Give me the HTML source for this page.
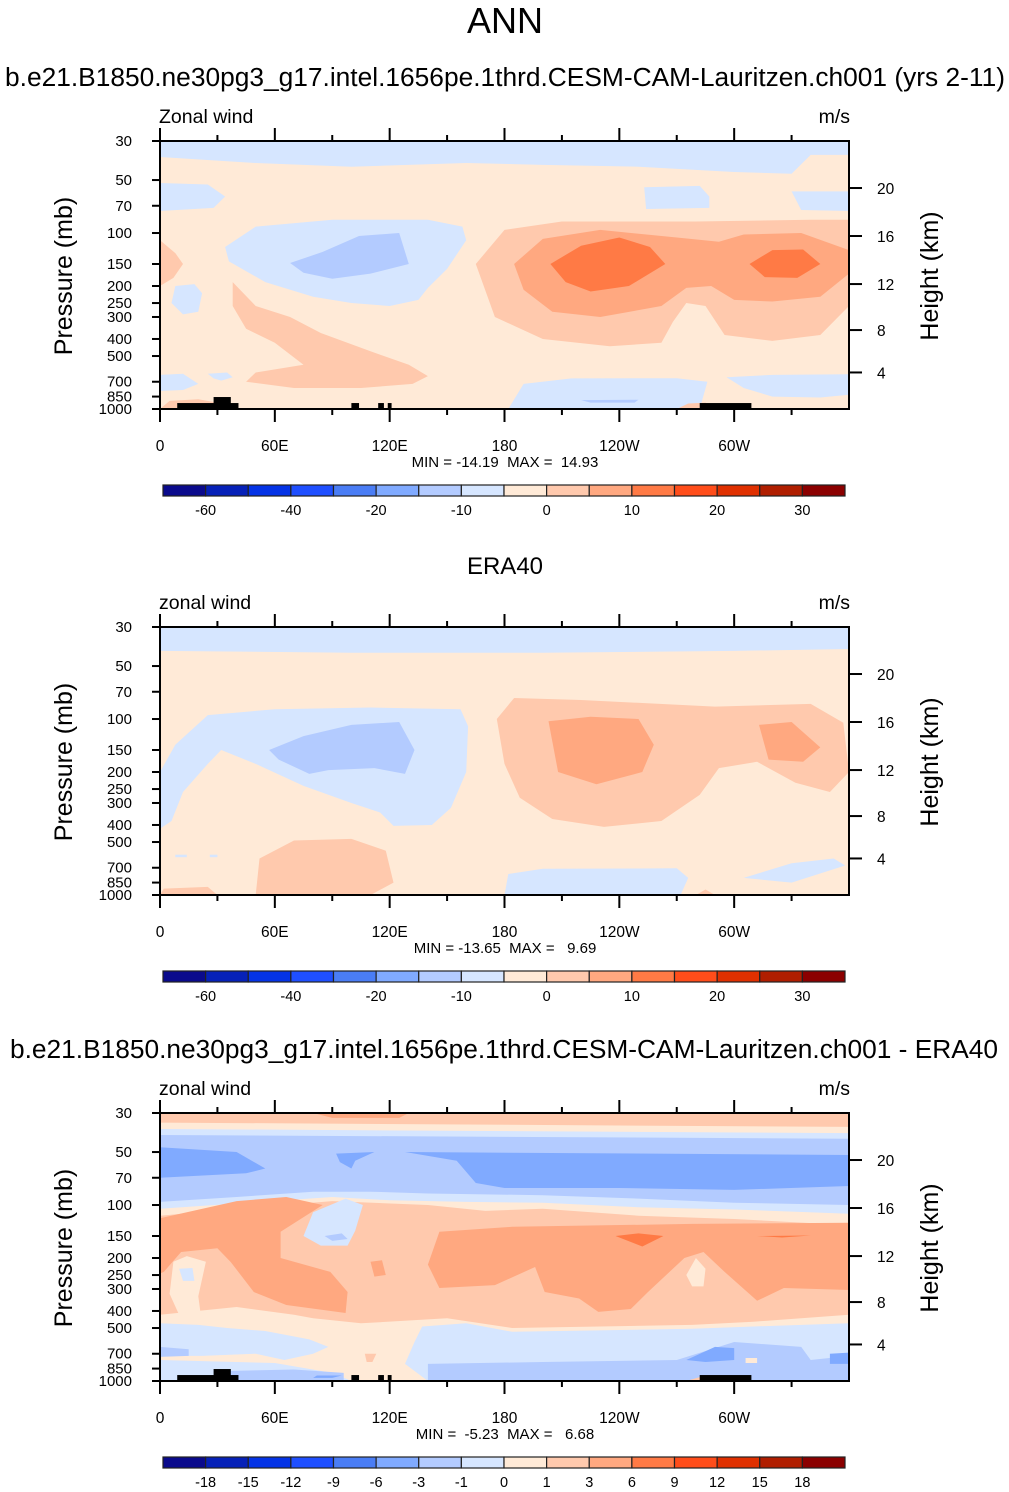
<!DOCTYPE html>
<html><head><meta charset="utf-8">
<style>
body{margin:0;background:#fff;}
svg{display:block;font-family:"Liberation Sans",Arial,sans-serif;}
text{white-space:pre;}
</style></head>
<body>
<svg id="fig" width="1009" height="1492" viewBox="0 0 1009 1492" xmlns="http://www.w3.org/2000/svg">
<text x="505" y="33" font-size="36" text-anchor="middle">ANN</text>
<text x="505" y="86" font-size="26.2" text-anchor="middle" textLength="1000" lengthAdjust="spacingAndGlyphs">b.e21.B1850.ne30pg3_g17.intel.1656pe.1thrd.CESM-CAM-Lauritzen.ch001 (yrs 2-11)</text>
<text x="505" y="574" font-size="24" text-anchor="middle">ERA40</text>
<text x="504" y="1058" font-size="26.2" text-anchor="middle" textLength="988" lengthAdjust="spacingAndGlyphs">b.e21.B1850.ne30pg3_g17.intel.1656pe.1thrd.CESM-CAM-Lauritzen.ch001 - ERA40</text>
</svg>
<script>
// ---- data ----
const colors = ["#0a0a8c","#0621b8","#0433e6","#1f4fff","#4a7df5","#80aaff","#b3cbff","#d6e6ff","#ffead7","#ffc9ad","#ffa880","#ff7a45","#ff4d1a","#e03000","#b01e00","#8b0000"];
const pressureTicks = [30,50,70,100,150,200,250,300,400,500,700,850,1000];
const heightTicks = [4,8,12,16,20];
const heightTickP = [620,356,195,104,55.5];
const lonTicks = [0,30,60,90,120,150,180,210,240,270,300,330];
const lonLabels = {0:"0",60:"60E",120:"120E",180:"180",240:"120W",300:"60W"};
const cbLabelsFull = ["-60","","-40","","-20","","-10","","0","","10","","20","","30"];
const cbLabelsDiff = ["-18","-15","-12","-9","-6","-3","-1","0","1","3","6","9","12","15","18"];
const panelTops = [141,627,1113];
const panelLeft = ["Zonal wind","zonal wind","zonal wind"];
const panelMinMax = ["MIN = -14.19  MAX =  14.93","MIN = -13.65  MAX =   9.69","MIN =  -5.23  MAX =   6.68"];
const panelBg = [8,8,9];
// regions: [level, [[lon,p],...]]
const regions1 = [
 [7,[[0,30],[360,30],[360,36],[340,36],[330,46],[300,45],[250,42],[200,41],[160,40],[100,42],[50,40],[0,37]]],
 [7,[[0,52],[25,53],[34,62],[28,72],[0,75]]],
 [7,[[253,55],[282,54],[287,62],[287,72],[254,73]]],
 [7,[[330,58],[360,58],[360,75],[335,74]]],
 [7,[[34,120],[50,92],[90,84],[140,84],[158,92],[160,110],[150,160],[140,205],[135,240],[120,260],[100,250],[80,230],[55,190],[36,145]]],
 [6,[[68,148],[85,128],[104,104],[125,100],[130,150],[110,170],[90,182],[75,168]]],
 [7,[[8,200],[18,195],[22,220],[20,280],[12,290],[6,250]]],
 [9,[[0,110],[8,130],[12,150],[7,180],[0,200]]],
 [9,[[38,190],[50,260],[68,300],[84,370],[110,470],[130,560],[140,650],[132,720],[105,760],[70,760],[45,700],[50,620],[75,560],[60,420],[45,350],[38,260]]],
 [9,[[165,150],[180,96],[210,86],[280,86],[340,84],[360,84],[360,260],[345,380],[320,410],[295,380],[285,260],[275,250],[268,320],[262,420],[235,440],[200,400],[175,300]]],
 [10,[[185,150],[200,108],[230,96],[270,106],[292,112],[305,102],[335,100],[360,125],[360,170],[345,230],[320,245],[300,240],[288,200],[275,205],[262,260],[230,300],[205,280],[190,210]]],
 [11,[[204,150],[220,118],[240,106],[256,120],[264,150],[245,200],[225,215],[212,190]]],
 [11,[[308,150],[320,125],[336,124],[345,150],[333,180],[316,178]]],
 [7,[[182,1000],[190,720],[215,670],[270,668],[286,700],[282,1000]]],
 [6,[[220,890],[250,885],[248,920],[225,920]]],
 [7,[[296,660],[320,640],[360,635],[360,830],[345,860],[320,850],[305,760]]],
 [7,[[0,640],[12,630],[20,720],[12,780],[0,790]]],
 [7,[[25,630],[35,620],[38,660],[32,690],[28,670]]],
 [9,[[0,1000],[5,900],[20,880],[30,920],[30,1000]]],
 [9,[[270,1000],[276,930],[285,920],[290,1000]]]
];
const regions2 = [
 [7,[[0,30],[360,30],[360,40],[300,41],[200,42],[100,42],[0,41]]],
 [7,[[0,200],[8,140],[25,95],[60,88],[110,86],[157,88],[161,110],[160,200],[152,320],[142,400],[122,405],[115,340],[100,300],[75,240],[50,180],[32,150],[25,180],[12,260],[6,380],[0,420]]],
 [6,[[57,150],[75,125],[100,108],[125,104],[133,150],[128,205],[112,190],[88,195],[78,205],[62,170]]],
 [9,[[176,100],[185,76],[220,78],[290,85],[340,82],[357,105],[360,200],[350,260],[332,230],[312,175],[292,190],[282,270],[262,380],[232,410],[205,370],[188,280],[180,180]]],
 [10,[[203,103],[225,97],[250,100],[258,140],[252,200],[228,235],[208,200]]],
 [10,[[313,108],[330,104],[345,145],[336,175],[318,170]]],
 [9,[[50,1000],[52,620],[70,490],[100,480],[118,560],[122,850],[110,1000]]],
 [9,[[0,1000],[2,920],[25,900],[30,1000]]],
 [9,[[280,1000],[285,930],[290,1000]]],
 [7,[[180,1000],[182,760],[200,710],[270,705],[276,800],[272,1000]]],
 [7,[[305,800],[330,660],[352,620],[358,680],[330,850]]],
 [7,[[8,590],[14,590],[14,610],[8,610]]],[7,[[26,590],[30,590],[30,610],[26,610]]]
];
const regions3 = [
 [10,[[80,30],[130,30],[125,32],[90,32]]],
 [8,[[0,34],[360,36],[360,130],[300,120],[250,115],[200,105],[170,108],[140,100],[90,95],[40,105],[0,115]]],
 [7,[[0,37],[360,39],[360,112],[300,106],[250,103],[200,97],[160,96],[120,94],[90,90],[40,98],[0,105]]],
 [6,[[0,40],[360,42],[360,100],[300,97],[250,92],[200,88],[140,86],[110,84],[80,84],[40,90],[0,96]]],
 [5,[[0,47],[40,50],[55,62],[45,66],[0,70]]],
 [5,[[92,51],[112,50],[102,56],[100,62],[94,57]]],
 [5,[[128,50],[360,52],[360,78],[300,82],[240,80],[180,80],[165,75],[155,56]]],
 [7,[[80,110],[97,92],[106,100],[102,140],[98,170],[84,170],[75,150]]],
 [6,[[86,150],[95,145],[98,156],[90,160]]],
 [10,[[0,119],[40,95],[66,90],[85,100],[63,142],[63,200],[89,240],[98,312],[97,411],[66,370],[49,312],[37,211],[30,176],[11,185],[2,240],[0,245]]],
 [8,[[7,210],[14,195],[24,210],[20,330],[22,480],[26,600],[16,560],[10,420],[5,320]]],
 [7,[[10,230],[17,228],[18,270],[12,270]]],
 [10,[[140,218],[146,142],[184,133],[278,128],[360,126],[360,304],[326,296],[312,350],[295,240],[284,185],[274,200],[255,312],[246,390],[229,405],[219,340],[201,312],[196,225],[175,285],[146,296]]],
 [10,[[110,210],[116,206],[118,250],[112,255]]],
 [8,[[275,250],[280,200],[285,230],[284,290],[278,290]]],
 [11,[[238,150],[250,145],[263,150],[252,172]]],
 [11,[[312,150],[340,149],[325,153]]],
 [8,[[0,420],[40,380],[70,420],[80,440],[105,470],[150,440],[184,500],[278,480],[310,460],[360,420],[360,1000],[0,1000]]],
 [7,[[0,470],[20,480],[35,500],[55,520],[78,580],[88,640],[80,700],[65,760],[50,700],[22,720],[0,720]]],
 [7,[[137,490],[160,470],[184,525],[278,505],[310,490],[360,470],[360,1000],[140,1000],[128,800],[133,600]]],
 [7,[[0,760],[60,790],[90,900],[100,1000],[0,1000]]],
 [6,[[0,640],[15,660],[15,720],[0,730]]],
 [6,[[140,800],[200,780],[270,760],[300,600],[335,640],[340,760],[360,720],[360,1000],[140,1000]]],
 [6,[[30,880],[70,860],[96,900],[96,1000],[30,1000]]],
 [5,[[290,640],[300,650],[300,760],[285,780],[275,760]]],
 [5,[[350,700],[360,690],[360,800],[350,800]]],
 [5,[[82,930],[95,930],[90,960],[80,960]]],
 [8,[[306,740],[312,740],[312,790],[306,790]]],
 [9,[[107,700],[113,700],[111,780],[108,780]]],
 [9,[[275,1000],[282,950],[288,1000]]]
];
const panelRegions = [regions1, regions2, regions3];
const topo = [[9,41,925],[28,37,855],[100,104,925],[114,117,925],[119,121,925],[282,309,925]];
const panelHasTopo = [true,false,true];

// ---- drawing ----
const NS="http://www.w3.org/2000/svg";
const svg=document.getElementById('fig');
const L=160, W=689, H=268;
function el(tag, attrs, parent){const e=document.createElementNS(NS,tag);for(const k in attrs)e.setAttribute(k,attrs[k]);(parent||svg).appendChild(e);return e;}
function xScale(lon){return L+lon/360*W;}
function yScale(top,p){return top+Math.log(p/30)/Math.log(1000/30)*H;}

panelTops.forEach((top,pi)=>{
  const g=el('g',{});
  
  
  const cp=el('clipPath',{id:'clip'+pi},g);
  el('rect',{x:L,y:top,width:W,height:H},cp);
  const plot=el('g',{'clip-path':'url(#clip'+pi+')'},g);
  
  
  const bg=el('rect',{x:L,y:top,width:W,height:H,fill:colors[panelBg[pi]]},plot);
  
  
  panelRegions[pi].forEach((r,ri)=>{
    const pts=r[1].map(q=>xScale(q[0]).toFixed(1)+','+yScale(top,q[1]).toFixed(1)).join(' ');
    const poly=el('polygon',{points:pts,fill:colors[r[0]]},plot);
    
    
  });
  if(panelHasTopo[pi]){
    topo.forEach(t=>{
      const y=yScale(top,t[2]);
      const rr=el('rect',{x:xScale(t[0]),y:y,width:xScale(t[1])-xScale(t[0]),height:top+H-y,fill:'#000'},plot);
      
      
    });
  }
  const frame=el('rect',{x:L,y:top,width:W,height:H,fill:'none',stroke:'#000','stroke-width':2},g);
  
  
  lonTicks.forEach(lon=>{
    const x=xScale(lon), major=(lon%60===0), len=major?13:6;
    el('line',{x1:x,y1:top,x2:x,y2:top-len,stroke:'#000','stroke-width':2},g);
    el('line',{x1:x,y1:top+H,x2:x,y2:top+H+len,stroke:'#000','stroke-width':2},g);
    if(lonLabels[lon]!==undefined){
      const t=el('text',{x:x,y:top+H+42,'font-size':15.5,'text-anchor':'middle'},g);
      t.textContent=lonLabels[lon];
      
      
    }
  });
  pressureTicks.forEach(p=>{
    const y=yScale(top,p);
    el('line',{x1:L,y1:y,x2:L-8,y2:y,stroke:'#000','stroke-width':2},g);
    const t=el('text',{x:L-28,y:y+5,'font-size':15,'text-anchor':'end'},g);
    t.textContent=p;
    
    
  });
  heightTicks.forEach((h,i)=>{
    const y=yScale(top,heightTickP[i]);
    el('line',{x1:L+W,y1:y,x2:L+W+13,y2:y,stroke:'#000','stroke-width':2},g);
    const t=el('text',{x:L+W+28,y:y+6,'font-size':15.5},g);
    t.textContent=h;
    
    
  });
  const yt=el('text',{x:0,y:0,'font-size':25,'text-anchor':'middle',transform:'translate(72,'+(top+135)+') rotate(-90)'},g);
  yt.textContent='Pressure (mb)';
  
  
  const ht=el('text',{x:0,y:0,'font-size':25,'text-anchor':'middle',transform:'translate(938,'+(top+135)+') rotate(-90)'},g);
  ht.textContent='Height (km)';
  
  
  const lt=el('text',{x:159,y:top-18,'font-size':19.5},g);
  lt.textContent=panelLeft[pi];
  
  
  const ut=el('text',{x:850,y:top-18,'font-size':19.5,'text-anchor':'end'},g);
  ut.textContent='m/s';
  
  
  const mm=el('text',{x:505,y:top+326,'font-size':15,'text-anchor':'middle'},g);
  mm.textContent=panelMinMax[pi];
  
  
  const cb=el('g',{},g);
  
  
  const cy=top+344, cx=163, bw=682/16;
  colors.forEach((c,i)=>{
    const b=el('rect',{x:cx+i*bw,y:cy,width:bw,height:11,fill:c,stroke:'#222','stroke-width':1.2},cb);
    
    
  });
  const labs= pi===2?cbLabelsDiff:cbLabelsFull;
  labs.forEach((s,i)=>{
    if(!s)return;
    const t=el('text',{x:cx+(i+1)*bw,y:cy+30,'font-size':14.5,'text-anchor':'middle'},cb);
    t.textContent=s;
    
    
  });
});
</script>
</body></html>
